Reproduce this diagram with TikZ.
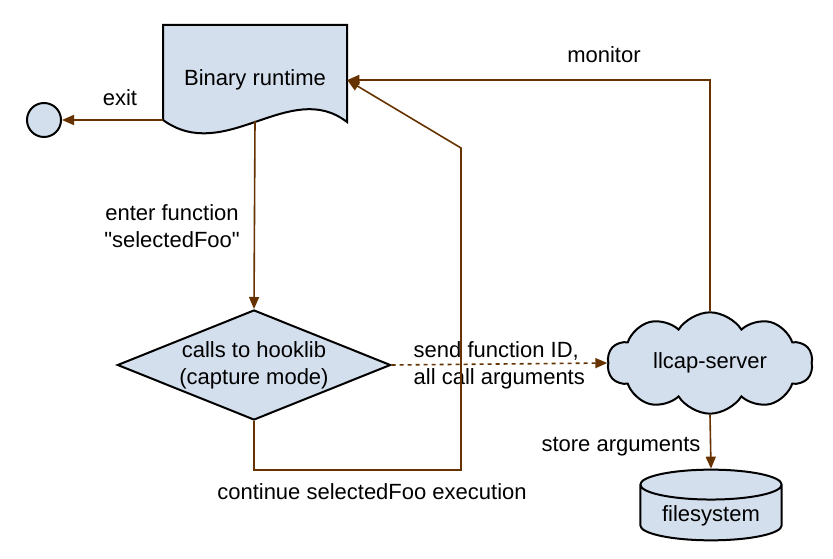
\documentclass[tikz,border=0pt]{standalone}
\usepackage{fontspec}
\setmainfont{Liberation Sans}
\usepackage{xcolor}
\usetikzlibrary{shapes,arrows.meta,calc,backgrounds}
\definecolor{shapefill}{HTML}{D4DFEE}
\definecolor{flowbrown}{HTML}{663300}

\begin{document}
\begin{tikzpicture}[x=0.75pt, y=-0.75pt,
    every node/.style={font=\fontsize{16.5}{20}\selectfont},
    box/.style={draw, line width=1.5pt, fill=shapefill},
    flow/.style={draw=flowbrown, line width=1.2pt, -{Triangle[length=9pt,width=7.5pt]}}]
    \useasboundingbox (0,0) rectangle (833,559);

    \node [minimum width=138pt, minimum height=82.5pt] (bin) at (255,80) {Binary runtime};
    \begin{scope}[on background layer]
        \draw [box] (163,25) -- (347,25) -- (347,122)
            .. controls (290,78) and (225,165) .. (163,120) -- cycle;
    \end{scope}
    \coordinate (binexit) at (163,120);
    \coordinate (binout) at (255,121);

    \node [box, circle, minimum size=25.5pt, inner sep=0pt] (stop) at (44,120) {};
    \node [box, diamond, aspect=2.48, inner sep=0pt, minimum width=205pt, minimum height=82.5pt, align=center] (hook) at (254,365) {calls to hooklib\\(capture mode)};
    \node [box, cloud, cloud puffs=10, cloud puff arc=115, cloud ignores aspect, minimum width=154pt, minimum height=76pt] (server) at (710,363) {llcap-server};
    \node [box, cylinder, shape border rotate=90, aspect=0.28, minimum width=106pt, minimum height=53pt, anchor=shape center] (fs) at (711,505) {filesystem};
    \coordinate (turn) at (461,148);

    \draw [flow] (binexit) -- (stop); \node (exitlbl) at (120,98) {exit};
    \draw [flow] (binout) -- (hook.north); \node [align=center] (enterlbl) at (172,226) {enter function\\\textquotedbl selectedFoo\textquotedbl};
    \draw [flow, dashed] (hook.east) -- (server.west); \node [anchor=west, align=left] (sendlbl) at (409,365) {send function ID,\\all call arguments};
    \draw [flow] (hook.south) -- ++(0,49) -| (turn) -- (bin.east); \node (contlbl) at (372,492) {continue selectedFoo execution};
    \draw [flow] (server.north) |- (bin.east); \node (monlbl) at (604,55) {monitor};
    \draw [flow] (server.south) -- (fs.north); \node (storelbl) at (621,447) {store arguments};
\end{tikzpicture}
\end{document}
